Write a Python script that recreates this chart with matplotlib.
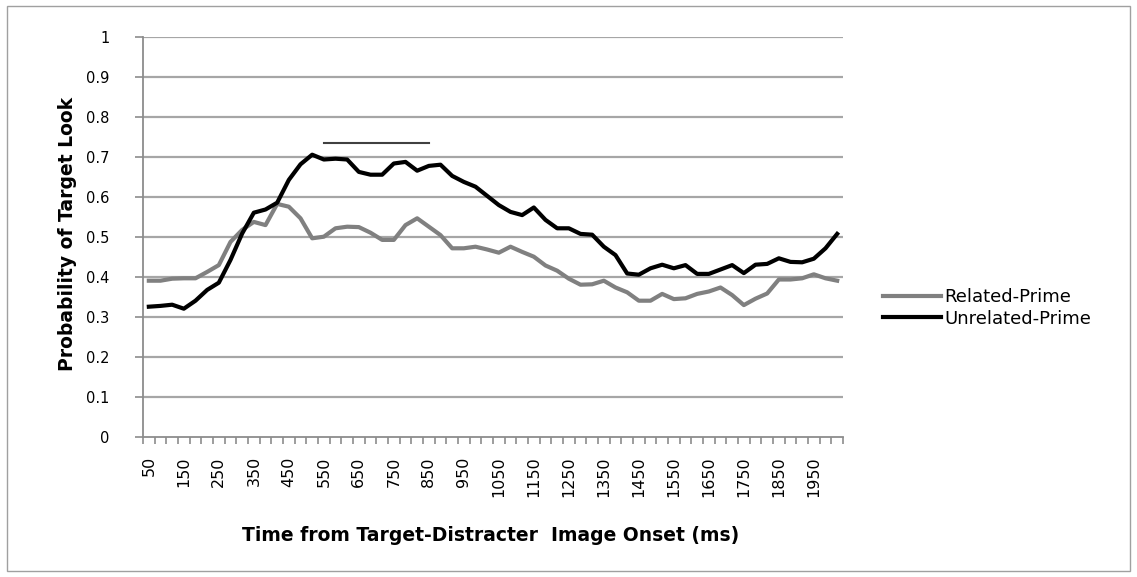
import matplotlib
matplotlib.use("Agg")
import matplotlib.pyplot as plt
from matplotlib.patches import Rectangle

# ---- data ----
times = [50, 83, 117, 150, 183, 217, 250, 283, 317, 350,
         383, 417, 450, 483, 517, 550, 583, 617, 650, 683,
         717, 750, 783, 817, 850, 883, 917, 950, 983, 1017,
         1050, 1083, 1117, 1150, 1183, 1217, 1250, 1283, 1317, 1350,
         1383, 1417, 1450, 1483, 1517, 1550, 1583, 1617, 1650, 1683,
         1717, 1750, 1783, 1817, 1850, 1883, 1917, 1950, 1983, 2017]

related = [0.390, 0.390, 0.395, 0.396, 0.396, 0.412, 0.429, 0.487, 0.517, 0.537,
           0.529, 0.582, 0.575, 0.546, 0.496, 0.500, 0.521, 0.525, 0.524, 0.510,
           0.492, 0.492, 0.529, 0.546, 0.525, 0.504, 0.471, 0.471, 0.475, 0.468,
           0.460, 0.475, 0.462, 0.450, 0.428, 0.415, 0.395, 0.380, 0.381, 0.390,
           0.373, 0.361, 0.340, 0.340, 0.357, 0.344, 0.346, 0.357, 0.363, 0.373,
           0.354, 0.329, 0.345, 0.358, 0.393, 0.393, 0.396, 0.406, 0.396, 0.390]

unrelated = [0.325, 0.327, 0.330, 0.320, 0.340, 0.367, 0.385, 0.442, 0.508, 0.560,
             0.568, 0.585, 0.642, 0.681, 0.705, 0.693, 0.695, 0.693, 0.662, 0.655,
             0.655, 0.683, 0.687, 0.665, 0.677, 0.680, 0.652, 0.637, 0.625, 0.602,
             0.579, 0.562, 0.554, 0.573, 0.542, 0.521, 0.521, 0.507, 0.505, 0.475,
             0.454, 0.408, 0.405, 0.421, 0.430, 0.421, 0.429, 0.407, 0.407, 0.418,
             0.429, 0.409, 0.430, 0.432, 0.446, 0.437, 0.436, 0.445, 0.471, 0.507]

series_names = ["Related-Prime", "Unrelated-Prime"]
label_every = 3
yticks = [0, 0.1, 0.2, 0.3, 0.4, 0.5, 0.6, 0.7, 0.8, 0.9, 1]
ytick_labels = ["0", "0.1", "0.2", "0.3", "0.4", "0.5", "0.6", "0.7", "0.8", "0.9", "1"]
sig_start_ms, sig_end_ms, sig_y = 550, 850, 0.733

# ---- figure ----
W, H = 1137, 577
fig = plt.figure(figsize=(W / 100, H / 100), dpi=100)
fig.patch.set_facecolor("white")

# outer chart border
fig.patches.append(Rectangle((7 / W, 6 / H), (1130 - 7) / W, (571 - 6) / H,
                             transform=fig.transFigure, fill=False,
                             edgecolor="#a0a0a0", linewidth=1.0))

left, right, top, bottom = 143, 843, 36.7, 436.7
ax = fig.add_axes([left / W, 1 - bottom / H, (right - left) / W, (bottom - top) / H])

n = len(times)
x = list(range(n))
grid_c = "#a6a6a6"
ax.set_xlim(-0.5, n - 0.5)
ax.set_ylim(0, 1)

for yv in yticks[1:]:
    ax.axhline(yv, color=grid_c, lw=1.6, zorder=1)

l1, = ax.plot(x, related, color="#808080", lw=3.0, solid_joinstyle="round", zorder=3)
l2, = ax.plot(x, unrelated, color="#000000", lw=3.0, solid_joinstyle="round", zorder=4)

# significance bar
def ms_to_idx(ms):
    return (ms - times[0]) / ((times[-1] - times[0]) / (n - 1))
ax.plot([ms_to_idx(sig_start_ms), ms_to_idx(sig_end_ms)], [sig_y, sig_y],
        color="#404040", lw=1.5, zorder=5)

for side in ["top", "right"]:
    ax.spines[side].set_visible(False)
for side in ["left", "bottom"]:
    ax.spines[side].set_color("#8c8c8c")
    ax.spines[side].set_linewidth(1.3)

ax.set_yticks(yticks)
ax.set_yticklabels(ytick_labels, fontsize=10.5, family="DejaVu Sans")
ax.tick_params(axis="y", direction="out", length=6, width=1.2, color="#8c8c8c", pad=18)

ax.set_xticks([i - 0.5 for i in range(n + 1)], minor=True)
ax.set_xticks(x[::label_every])
ax.set_xticklabels([str(t) for t in times[::label_every]], rotation=90,
                   fontsize=11.5, family="DejaVu Sans")
ax.tick_params(axis="x", which="major", length=0, pad=14)
ax.tick_params(axis="x", which="minor", direction="out", length=5, width=1.2, color="#8c8c8c")

ax.set_xlabel("Time from Target-Distracter  Image Onset (ms)", fontsize=13.5,
              fontweight="bold", family="DejaVu Sans")
ax.xaxis.set_label_coords(0.496, -0.224)
ax.set_ylabel("Probability of Target Look", fontsize=13.5, fontweight="bold",
              family="DejaVu Sans")
ax.yaxis.set_label_coords(-0.094, 0.507)

fig.legend([l1, l2], series_names, loc="center left",
           bbox_to_anchor=(883 / W, 1 - 308 / H), bbox_transform=fig.transFigure,
           frameon=False, handlelength=3.2, handletextpad=0.2,
           labelspacing=0.2, borderpad=0, borderaxespad=0,
           prop={"family": "DejaVu Sans", "size": 13})

fig.savefig("out.png", dpi=100, facecolor="white")
